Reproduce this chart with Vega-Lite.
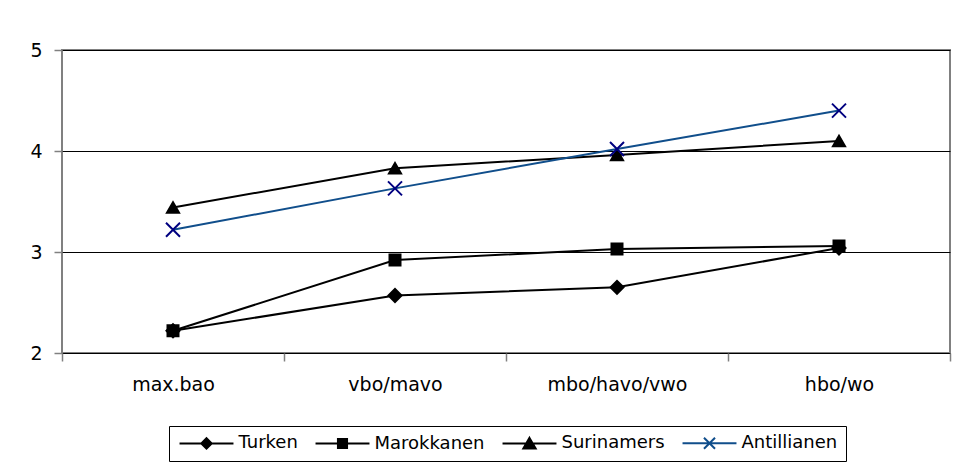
{
  "$schema": "https://vega.github.io/schema/vega-lite/v6.json",
  "width": 888,
  "height": 303,
  "autosize": {"type": "none"},
  "padding": {"left": 62, "top": 50, "right": 10, "bottom": 111},
  "background": "white",
  "config": {
    "view": {"stroke": "#808080", "strokeWidth": 2},
    "font": "DejaVu Sans"
  },
  "data": {
    "values": [
      {"niveau": "max.bao", "groep": "Turken", "score": 2.22},
      {"niveau": "vbo/mavo", "groep": "Turken", "score": 2.57},
      {"niveau": "mbo/havo/vwo", "groep": "Turken", "score": 2.65},
      {"niveau": "hbo/wo", "groep": "Turken", "score": 3.04},
      {"niveau": "max.bao", "groep": "Marokkanen", "score": 2.22},
      {"niveau": "vbo/mavo", "groep": "Marokkanen", "score": 2.92},
      {"niveau": "mbo/havo/vwo", "groep": "Marokkanen", "score": 3.03},
      {"niveau": "hbo/wo", "groep": "Marokkanen", "score": 3.06},
      {"niveau": "max.bao", "groep": "Surinamers", "score": 3.44},
      {"niveau": "vbo/mavo", "groep": "Surinamers", "score": 3.83},
      {"niveau": "mbo/havo/vwo", "groep": "Surinamers", "score": 3.96},
      {"niveau": "hbo/wo", "groep": "Surinamers", "score": 4.1},
      {"niveau": "max.bao", "groep": "Antillianen", "score": 3.22},
      {"niveau": "vbo/mavo", "groep": "Antillianen", "score": 3.63},
      {"niveau": "mbo/havo/vwo", "groep": "Antillianen", "score": 4.02},
      {"niveau": "hbo/wo", "groep": "Antillianen", "score": 4.4}
    ]
  },
  "encoding": {
    "x": {
      "field": "niveau",
      "type": "nominal",
      "sort": ["max.bao", "vbo/mavo", "mbo/havo/vwo", "hbo/wo"],
      "scale": {"type": "band", "paddingInner": 0, "paddingOuter": 0},
      "axis": {
        "title": null,
        "domain": false,
        "grid": false,
        "labelAngle": 0,
        "tickBand": "extent",
        "tickColor": "#808080",
        "tickSize": 8,
        "tickWidth": 1.5,
        "labelFont": "DejaVu Sans",
        "labelFontSize": 19,
        "labelColor": "black",
        "labelPadding": 14
      }
    },
    "y": {
      "field": "score",
      "type": "quantitative",
      "scale": {"domain": [2, 5], "nice": false, "zero": false},
      "axis": {
        "title": null,
        "domain": false,
        "values": [2, 3, 4, 5],
        "grid": true,
        "gridColor": "black",
        "gridWidth": 1,
        "gridOpacity": 1,
        "tickColor": "#808080",
        "tickSize": 8,
        "tickWidth": 1.5,
        "labelFont": "DejaVu Sans",
        "labelFontSize": 19,
        "labelColor": "black",
        "labelPadding": 12
      }
    }
  },
  "layer": [
    {
      "mark": {"type": "line", "strokeWidth": 2},
      "encoding": {
        "color": {
          "field": "groep",
          "type": "nominal",
          "scale": {"domain": ["Turken", "Marokkanen", "Surinamers", "Antillianen"], "range": ["#000000", "#000000", "#000000", "#104E8B"]},
          "legend": {
            "orient": "none",
            "legendX": 107,
            "legendY": 376,
            "direction": "horizontal",
            "columns": 4,
            "title": null,
            "strokeColor": "black",
            "fillColor": "white",
            "padding": 8,
            "symbolSize": 169,
            "symbolOffset": 20.5,
            "labelOffset": 23,
            "columnPadding": 13,
            "labelFont": "DejaVu Sans",
            "labelFontSize": 18,
            "labelColor": "black",
            "symbolStrokeWidth": 2,
            "encode": {
              "symbols": {
                "update": {
                  "shape": {"signal": "datum.value==='Turken' ? 'M-4.15,0L4.15,0M0,-0.8L0.8,0L0,0.8L-0.8,0Z' : datum.value==='Marokkanen' ? 'M-4.15,0L4.15,0M-0.7,-0.7L0.7,-0.7L0.7,0.7L-0.7,0.7Z' : datum.value==='Surinamers' ? 'M-4.15,0L4.15,0M0,-0.85L0.95,0.8L-0.95,0.8Z' : 'M-4.15,0L4.15,0M-0.85,-0.85L0.85,0.85M-0.85,0.85L0.85,-0.85'"},
                  "size": {"value": 169},
                  "fill": {"signal": "datum.value==='Antillianen' ? 'transparent' : 'black'"},
                  "stroke": {"signal": "datum.value==='Antillianen' ? '#0B2F8A' : 'black'"},
                  "strokeWidth": {"value": 2},
                  "opacity": {"value": 1}
                }
              }
            }
          }
        }
      }
    },
    {
      "mark": {"type": "point", "filled": true, "opacity": 1, "strokeWidth": 2},
      "encoding": {
        "shape": {
          "field": "groep",
          "type": "nominal",
          "scale": {"domain": ["Surinamers", "Turken", "Antillianen", "Marokkanen"], "range": ["triangle-up", "diamond", "M-1,-1L1,1M-1,1L1,-1", "square"]},
          "legend": null
        },
        "fill": {
          "field": "groep",
          "type": "nominal",
          "scale": {"domain": ["Marokkanen", "Turken", "Antillianen", "Surinamers"], "range": ["#000000", "#000000", "transparent", "#000000"]},
          "legend": null
        },
        "stroke": {
          "field": "groep",
          "type": "nominal",
          "scale": {"domain": ["Surinamers", "Antillianen", "Turken", "Marokkanen"], "range": ["#000000", "#000080", "#000000", "#000000"]},
          "legend": null
        },
        "size": {
          "field": "groep",
          "type": "nominal",
          "scale": {"domain": ["Antillianen", "Turken", "Surinamers", "Marokkanen"], "range": [196, 121, 169, 169]},
          "legend": null
        }
      }
    }
  ]
}
